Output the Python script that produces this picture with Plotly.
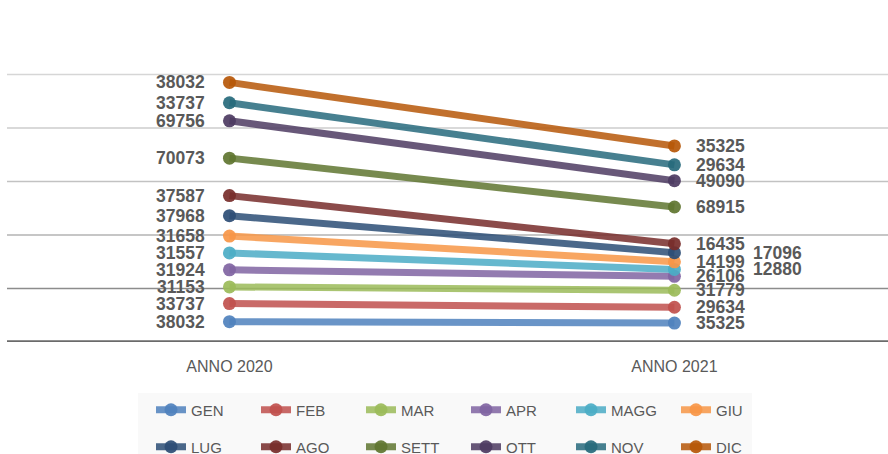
import plotly.graph_objects as go
import numpy as np

# ---- data ----
months = ["GEN", "FEB", "MAR", "APR", "MAGG", "GIU", "LUG", "AGO", "SETT", "OTT", "NOV", "DIC"]
years = ["ANNO 2020", "ANNO 2021"]
v2020 = [38032, 33737, 31153, 31924, 31557, 31658, 37968, 37587, 70073, 69756, 33737, 38032]
v2021 = [35325, 29634, 31779, 26106, 12880, 14199, 17096, 16435, 68915, 49090, 29634, 35325]
grid_values = [100000, 200000, 300000, 400000, 500000]

# ---- styles ----
colors = ["#4F81BD", "#C0504D", "#9BBB59", "#8064A2", "#4BACC6", "#F79646",
          "#2C4D75", "#772C2A", "#5F7530", "#4D3B62", "#276A7C", "#B65708"]
grid_colors = ["#8c8c8c", "#b3b3b3", "#c2c2c2", "#cccccc", "#d6d6d6"]
label_shift_2021 = {"LUG": 77, "MAGG": 77}
FONT = "Liberation Sans, Arial, sans-serif"
TXT = "#595959"

W, H = 888, 454
ML, MR, MT, MB = 7, 0, 21, 112
PW, PH = W - ML - MR, H - MT - MB


def rgba(h, a):
    h = h.lstrip("#")
    r, g, b = int(h[0:2], 16), int(h[2:4], 16), int(h[4:6], 16)
    return f"rgba({r},{g},{b},{a})"


def px_x(px):
    return (px - ML) / PW


def px_y(py):
    return (H - MB - py) / PH


cum2020 = np.cumsum(v2020)
cum2021 = np.cumsum(v2021)

fig = go.Figure()
for i, m in enumerate(months):
    fig.add_trace(go.Scatter(
        x=years, y=[cum2020[i], cum2021[i]], name=m, mode="lines+markers",
        line=dict(color=rgba(colors[i], 0.85), width=7),
        marker=dict(color=rgba(colors[i], 0.92), size=13),
        legend="legend" if i < 6 else "legend2",
        hoverinfo="skip",
    ))

# legend background, gridlines and axis line
shapes = [dict(type="rect", xref="paper", yref="paper",
               x0=px_x(138), x1=px_x(752), y0=px_y(393), y1=px_y(460),
               fillcolor="#f9f9f9", line=dict(width=0), layer="below")]
for gv, gc in zip(grid_values, grid_colors):
    shapes.append(dict(type="line", xref="paper", x0=0, x1=1, yref="y", y0=gv, y1=gv,
                       line=dict(color=gc, width=1.5), layer="below"))
shapes.append(dict(type="line", xref="paper", x0=0, x1=1, yref="y", y0=0, y1=0,
                   line=dict(color="#6b6b6b", width=3.5), layer="below"))

annotations = []
for i, m in enumerate(months):
    annotations.append(dict(x=years[0], y=cum2020[i], text=str(v2020[i]), showarrow=False,
                            xanchor="right", yanchor="middle", xshift=-22,
                            font=dict(family=FONT, size=17.5, color=TXT, weight="bold")))
    annotations.append(dict(x=years[1], y=cum2021[i], text=str(v2021[i]), showarrow=False,
                            xanchor="left", yanchor="middle",
                            xshift=label_shift_2021.get(m, 20),
                            font=dict(family=FONT, size=17.5, color=TXT, weight="bold")))

legend_common = dict(orientation="h", xref="container", yref="container",
                     xanchor="left", yanchor="middle", bgcolor="rgba(0,0,0,0)",
                     font=dict(family=FONT, size=15, color=TXT),
                     entrywidth=60, entrywidthmode="pixels", itemwidth=30,
                     traceorder="normal")

fig.update_layout(
    width=W, height=H,
    margin=dict(l=ML, r=MR, t=MT, b=MB),
    paper_bgcolor="white", plot_bgcolor="white",
    showlegend=True,
    xaxis=dict(range=[-0.5, 1.48], showgrid=False, zeroline=False, showline=False,
               ticks="", tickfont=dict(family=FONT, size=16, color=TXT),
               ticklabelstandoff=13, fixedrange=True),
    yaxis=dict(range=[0, 600000], showgrid=False, zeroline=False, showline=False,
               showticklabels=False, fixedrange=True),
    legend=dict(x=151 / W, y=1 - 410 / H, **legend_common),
    legend2=dict(x=151 / W, y=1 - 447 / H, **legend_common),
    shapes=shapes,
    annotations=annotations,
)

fig.write_html("out.html")
